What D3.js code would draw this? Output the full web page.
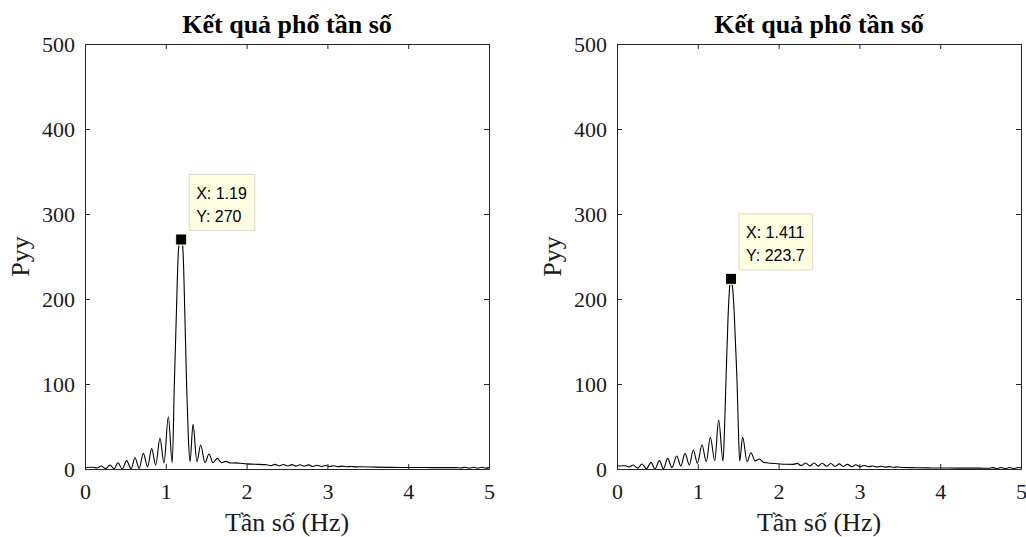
<!DOCTYPE html>
<html>
<head>
<meta charset="utf-8">
<script src="https://cdn.jsdelivr.net/npm/d3@7"></script>
<style>
  html, body { margin: 0; padding: 0; background: #fff; }
  svg { display: block; }
</style>
</head>
<body>
<svg id="chart" width="1026" height="537"></svg>
<script>
// ---------- data ----------
const chartTitle = "Kết quả phổ tần số";
const xLabel = "Tần số (Hz)";
const yLabel = "Pyy";
const xTicks = [0, 1, 2, 3, 4, 5];
const yTicks = [0, 100, 200, 300, 400, 500];

// left panel spectrum
const freqL = [0.00, 0.10, 0.15, 0.20, 0.255, 0.309, 0.36, 0.408, 0.46, 0.516, 0.57, 0.619, 0.67, 0.722, 0.775, 0.825, 0.875, 0.928, 0.978, 1.031,
  1.08, 1.105, 1.13, 1.155, 1.17, 1.19, 1.205, 1.215, 1.235, 1.258, 1.28, 1.30,
  1.337, 1.385, 1.431, 1.485, 1.535, 1.585, 1.637, 1.69, 1.745, 1.80, 1.85, 1.92, 2.00, 2.10, 2.20,
  2.25, 2.30, 2.35, 2.40, 2.455, 2.51, 2.56, 2.61, 2.66, 2.715, 2.77, 2.82, 2.87, 2.925, 2.975, 3.03, 3.08, 3.13, 3.185, 3.24, 3.29, 3.35, 3.40,
  3.60, 3.80, 4.00, 4.20, 4.40, 4.60, 4.65, 4.70, 4.755, 4.81, 4.86, 4.91, 4.965, 5.00];
const pyyL = [1.8, 2.0, 1.2, 3.5, 0.5, 4.7, 0.2, 7.4, 0.0, 9.8, 0.2, 13.3, 0.8, 18.4, 2.7, 24, 4.7, 36, 7.0, 61.5,
  7.4, 97, 180, 255, 267, 270, 266, 252, 185, 97, 35, 8.6,
  52.5, 8.6, 28.2, 7.6, 17.6, 7.4, 12.5, 7.5, 9.0, 7.0, 7.2, 6.7, 6.0, 5.6, 5.2,
  5.0, 4.0, 5.4, 3.8, 5.3, 3.6, 5.2, 3.4, 5.0, 3.2, 4.8, 3.0, 4.5, 2.9, 4.2, 3.0, 3.8, 2.8, 3.4, 2.6, 3.0, 2.5, 2.6,
  2.2, 1.9, 1.8, 1.7, 1.6, 1.6, 1.2, 2.0, 1.0, 2.0, 0.9, 2.0, 1.0, 1.6];

// right panel spectrum
const freqR = [0.00, 0.10, 0.15, 0.20, 0.255, 0.309, 0.365, 0.421, 0.47, 0.524, 0.575, 0.627, 0.68, 0.739, 0.79, 0.842, 0.895, 0.945, 0.995, 1.052,
  1.105, 1.155, 1.21, 1.258, 1.312,
  1.33, 1.349, 1.375, 1.395, 1.411, 1.428, 1.45, 1.47, 1.485, 1.50, 1.518,
  1.555, 1.61, 1.658, 1.71, 1.761, 1.81, 1.85, 1.95, 2.02, 2.10, 2.18,
  2.23, 2.28, 2.335, 2.385, 2.44, 2.49, 2.54, 2.595, 2.645, 2.70, 2.75, 2.80, 2.85, 2.905, 2.955, 3.01, 3.06, 3.11, 3.165, 3.215, 3.27, 3.32, 3.37, 3.425, 3.475, 3.53,
  3.70, 3.90, 4.10, 4.30, 4.50, 4.60, 4.65, 4.70, 4.755, 4.805, 4.86, 4.91, 4.965, 5.00];
const pyyR = [3.5, 3.8, 2.5, 4.7, 1.0, 5.9, 0.3, 7.8, 0.0, 9.8, 0.2, 12.5, 1.6, 15.3, 3.5, 18.4, 4.7, 22.3, 6.7, 28.2,
  8.6, 37.3, 9.8, 57.6, 9.4,
  45, 105, 180, 215, 223.7, 216, 185, 140, 105, 55, 9.4,
  37.3, 8.6, 19.2, 9.4, 11.8, 8.0, 7.4, 6.4, 5.9, 5.6, 5.5,
  6.6, 4.0, 7.0, 3.6, 7.0, 3.4, 6.8, 3.2, 6.5, 3.0, 6.0, 2.9, 5.5, 2.8, 5.0, 2.7, 4.2, 2.6, 3.6, 2.4, 3.2, 2.2, 2.8, 2.0, 2.4, 1.8,
  1.5, 1.2, 1.1, 1.0, 1.0, 0.9, 1.6, 0.5, 1.8, 0.4, 1.8, 0.4, 1.8, 1.4];

// data tips (peak points)
const tipL = { x: 1.19, y: 270, xText: "1.19", yText: "270" };
const tipR = { x: 1.411, y: 223.7, xText: "1.411", yText: "223.7" };

// ---------- drawing ----------
const svg = d3.select("#chart");
const serif = "'Liberation Serif', 'Times New Roman', serif";
const sans = "'Liberation Sans', Arial, sans-serif";

function panel(x0, x1, freq, pyy, tip) {
  const top = 44, bottom = 469;
  const x = d3.scaleLinear().domain([0, 5]).range([x0, x1]);
  const y = d3.scaleLinear().domain([0, 500]).range([bottom, top]);
  const g = svg.append("g");
  const axColor = "#262626";

  // spectrum line
  const pts = freq.map((f, i) => [f, pyy[i]]);
  g.append("path")
    .datum(pts)
    .attr("fill", "none")
    .attr("stroke", "#000")
    .attr("stroke-width", 1.1)
    .attr("d", d3.line().x(d => x(d[0])).y(d => y(d[1])).curve(d3.curveMonotoneX));

  // axes (box with inward ticks)
  const tl = 5;
  const axB = g.append("g").attr("transform", `translate(0,${bottom})`)
    .call(d3.axisBottom(x).tickValues(xTicks).tickSizeInner(-tl).tickSizeOuter(0).tickPadding(14).tickFormat(d3.format("d")));
  const axT = g.append("g").attr("transform", `translate(0,${top})`)
    .call(d3.axisTop(x).tickValues(xTicks).tickSizeInner(-tl).tickSizeOuter(0).tickFormat(""));
  const axL = g.append("g").attr("transform", `translate(${x0},0)`)
    .call(d3.axisLeft(y).tickValues(yTicks).tickSizeInner(-tl).tickSizeOuter(0).tickPadding(10).tickFormat(d3.format("d")));
  const axR = g.append("g").attr("transform", `translate(${x1},0)`)
    .call(d3.axisRight(y).tickValues(yTicks).tickSizeInner(-tl).tickSizeOuter(0).tickFormat(""));
  [axB, axT, axL, axR].forEach(a => {
    a.select(".domain").attr("stroke", axColor).attr("stroke-width", 1);
    a.selectAll(".tick line").attr("stroke", axColor);
    a.selectAll(".tick text").attr("fill", "#1a1a1a").attr("font-family", serif).attr("font-size", 22);
  });

  // title and labels
  const cx = (x0 + x1) / 2;
  g.append("text").attr("x", cx).attr("y", 33).attr("text-anchor", "middle")
    .attr("font-family", serif).attr("font-weight", "bold").attr("font-size", 26).attr("fill", "#000")
    .text(chartTitle);
  g.append("text").attr("x", cx).attr("y", 531).attr("text-anchor", "middle")
    .attr("font-family", serif).attr("font-size", 26).attr("fill", "#1a1a1a")
    .text(xLabel);
  g.append("text").attr("transform", `translate(${x0 - 56},${(top + bottom) / 2}) rotate(-90)`)
    .attr("text-anchor", "middle")
    .attr("font-family", serif).attr("font-size", 26).attr("fill", "#1a1a1a")
    .text(yLabel);

  // data tip
  const mx = x(tip.x), my = y(tip.y);
  const tg = g.append("g");
  const t1 = tg.append("text").attr("font-family", sans).attr("font-size", 16).attr("fill", "#000")
    .attr("x", mx + 15).attr("y", my - 41).text("X: " + tip.xText);
  const t2 = tg.append("text").attr("font-family", sans).attr("font-size", 16).attr("fill", "#000")
    .attr("x", mx + 15).attr("y", my - 18).text("Y: " + tip.yText);
  const w = Math.max(t1.node().getComputedTextLength(), t2.node().getComputedTextLength()) + 15;
  tg.insert("rect", "text")
    .attr("x", mx + 8).attr("y", my - 65).attr("width", w).attr("height", 56)
    .attr("fill", "#ffffe1").attr("stroke", "#d9d9cc").attr("stroke-width", 1);
  g.append("rect").attr("x", mx - 5.5).attr("y", my - 5.5).attr("width", 11).attr("height", 11)
    .attr("fill", "#000").attr("stroke", "#fdfdd0").attr("stroke-width", 1);
}

panel(85, 489, freqL, pyyL, tipL);
panel(617, 1021, freqR, pyyR, tipR);
</script>
</body>
</html>
